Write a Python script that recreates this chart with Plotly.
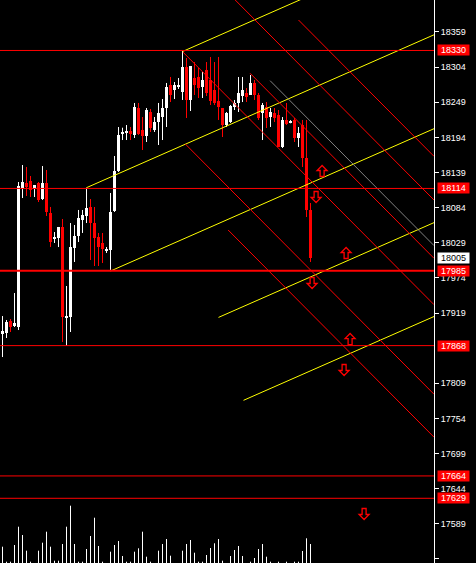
import plotly.graph_objects as go

# ---------------- data ----------------
opens = [17887.7, 17887.7, 17906.5, 17898.7, 17897.1, 18114.7, 18122.5, 18125.7, 18113.1, 18122.5,
         18097.5, 18122.5, 18075.6, 18034.9, 18036.4, 18053.7, 17912.8, 17912.8, 18020.8, 18039.6,
         18064.6, 18070.9, 18085.0, 18059.9, 18038.0, 18028.6, 18016.9, 18017.7, 18078.7, 18141.3,
         18200.3, 18200.8, 18203.9, 18197.7, 18239.9, 18205.5, 18196.1, 18233.7, 18205.5, 18218.0,
         18225.8, 18239.9, 18275.9, 18268.1, 18273.6, 18265.0, 18304.1, 18252.5, 18286.9, 18288.5,
         18272.8, 18299.4, 18283.8, 18268.1, 18250.9, 18239.9, 18213.3, 18218.0, 18241.5, 18247.8,
         18258.7, 18263.4, 18260.3, 18279.1, 18260.3, 18232.1, 18241.5, 18225.8, 18232.1, 18229.0,
         18178.9, 18221.2, 18218.0, 18221.2, 18193.0, 18213.3, 18161.7, 18080.3]
closes = [17890.8, 17904.9, 17897.1, 17903.4, 18117.8, 18124.1, 18116.3, 18111.6, 18119.4, 18095.9,
          18122.5, 18077.1, 18030.2, 18038.0, 18053.7, 17912.8, 17914.3, 18022.3, 18039.6, 18067.7,
          18072.4, 18083.4, 18059.9, 18036.4, 18022.3, 18019.2, 18018.4, 18077.1, 18141.3, 18197.7,
          18202.8, 18203.9, 18199.2, 18241.5, 18199.2, 18196.1, 18236.8, 18208.6, 18218.0, 18232.1,
          18239.9, 18272.8, 18260.3, 18275.9, 18275.2, 18304.1, 18252.5, 18305.7, 18275.9, 18271.2,
          18283.8, 18263.4, 18250.9, 18247.8, 18241.5, 18213.3, 18232.1, 18243.1, 18247.8, 18263.4,
          18268.1, 18257.2, 18279.1, 18260.3, 18224.3, 18244.6, 18224.3, 18233.7, 18224.3, 18178.9,
          18221.2, 18214.9, 18219.6, 18193.0, 18200.8, 18161.7, 18080.3, 18005.0]
highs = [17914.3, 17908.1, 17909.6, 17950.3, 18124.1, 18150.7, 18147.6, 18133.5, 18119.4, 18124.1,
         18149.1, 18142.9, 18085.0, 18045.8, 18053.7, 18066.2, 17961.3, 18059.9, 18056.8, 18080.3,
         18080.3, 18115.2, 18097.5, 18085.0, 18044.3, 18044.3, 18022.3, 18106.9, 18164.8, 18210.2,
         18209.1, 18213.3, 18210.2, 18247.8, 18247.8, 18225.8, 18239.9, 18238.4, 18225.8, 18247.8,
         18254.0, 18279.1, 18288.5, 18280.6, 18286.9, 18330.0, 18318.2, 18305.7, 18311.9, 18302.6,
         18296.3, 18311.9, 18319.8, 18311.9, 18319.8, 18239.9, 18233.7, 18244.6, 18252.5, 18288.5,
         18288.5, 18271.2, 18291.6, 18283.8, 18263.4, 18247.8, 18249.3, 18239.9, 18239.9, 18236.8,
         18225.8, 18247.8, 18221.0, 18224.3, 18210.2, 18221.2, 18221.2, 18091.2]
lows = [17850.1, 17879.9, 17889.3, 17897.1, 17892.4, 18099.0, 18102.2, 18100.6, 18100.6, 18092.8,
        18095.9, 18070.9, 18022.3, 18028.6, 18022.3, 17873.6, 17867.4, 17889.3, 17998.9, 18030.2,
        18044.3, 18059.9, 18002.0, 17992.6, 17992.6, 17997.3, 18013.0, 17986.3, 18077.1, 18139.8,
        18189.8, 18189.8, 18189.8, 18193.0, 18197.7, 18174.2, 18186.7, 18202.4, 18202.4, 18182.0,
        18189.8, 18210.2, 18249.3, 18254.0, 18269.7, 18252.5, 18224.3, 18235.2, 18260.3, 18255.6,
        18255.6, 18258.7, 18244.6, 18244.6, 18221.2, 18194.5, 18210.2, 18216.5, 18236.8, 18233.7,
        18249.3, 18249.3, 18260.3, 18252.5, 18221.2, 18189.8, 18208.6, 18210.2, 18218.0, 18178.9,
        18177.3, 18213.3, 18216.0, 18186.7, 18178.9, 18147.6, 18069.3, 17998.9]
volumes = [163, 13, 13, 180, 363, 280, 123, 13, 0, 123,
           203, 313, 163, 23, 23, 190, 363, 573, 190, 13,
           13, 140, 270, 453, 170, 13, 0, 113, 180, 220,
           70, 13, 13, 113, 147, 313, 63, 13, 0, 123,
           190, 240, 73, 0, 0, 123, 190, 230, 103, 13,
           13, 80, 150, 197, 240, 23, 0, 70, 130, 170,
           70, 0, 13, 50, 140, 190, 63, 13, 0, 13,
           0, 13, 0, 13, 13, 120, 247, 190]

# horizontal price levels (red lines with red labels)
levels = [18330, 18114, 17985, 17868, 17664, 17629]
level_widths = [1, 1, 2, 1, 1, 1]
current_price = 18005

tick_vals = [18359, 18304, 18249, 18194, 18139, 18084, 18029, 17974, 17919,
             17809, 17754, 17699, 17644, 17589, 17534]

# yellow parallel channel: anchor bar, anchor price, slope per bar, offsets, start bars
y_anchor_bar = 21
y_anchor_price = 18115.2
y_slope = 2.755
y_offsets = [147, 0, -147, -294, -441]
y_starts = [45, 21, 27, 54, 60.25]

# descending lines: start bar, start price (slope per bar shared)
r_slope = -6.3
red_starts = [(55, 18429.0), (74, 18377.7), (61.9, 18294.3), (45.1, 18327.6),
              (56.4, 18049.0), (45.7, 18183.6)]
grey_starts = [(66.9, 18282.7)]

# signal arrows: bar position, price, direction
arrow_x = [79.9, 78.4, 85.9, 77.4, 86.9, 85.4, 90.4]
arrow_y = [18141.3, 18100.6, 18013.0, 17966.0, 17878.3, 17829.8, 17604.4]
arrow_dir = ["up", "down", "up", "down", "up", "down", "down"]

# ---------------- figure ----------------
PLOT_W, PLOT_H = 434, 563
X_MIN, X_MAX = -0.625, 107.875
Y_MIN, Y_MAX = 17527.7, 18409.0
UX = (X_MAX - X_MIN) / PLOT_W      # x units per pixel
UY = (Y_MAX - Y_MIN) / PLOT_H      # price per pixel

fig = go.Figure()
n = len(opens)

# volumes (bottom histogram)
vx, vy = [], []
for i in range(n):
    if volumes[i] > 0:
        vx += [i, i, None]
        vy += [0, volumes[i], None]
fig.add_trace(go.Scatter(x=vx, y=vy, yaxis="y2", mode="lines",
                         line=dict(color="#FFFFFF", width=1),
                         hoverinfo="skip", showlegend=False))

# wicks
for color, up in (("#FFFFFF", True), ("#FF0000", False)):
    xs, ys = [], []
    for i in range(n):
        if (closes[i] >= opens[i]) == up:
            xs += [i, i, None]
            ys += [lows[i], highs[i], None]
    fig.add_trace(go.Scatter(x=xs, y=ys, mode="lines",
                             line=dict(color=color, width=1),
                             hoverinfo="skip", showlegend=False))

# bodies
MIN_BODY = 1.6
for color, up in (("#FFFFFF", True), ("#FF0000", False)):
    bx, bb, bh = [], [], []
    for i in range(n):
        o, c = opens[i], closes[i]
        if (c >= o) == up:
            lo, h = min(o, c), abs(c - o)
            if h < MIN_BODY:
                lo -= (MIN_BODY - h) / 2
                h = MIN_BODY
            bx.append(i); bb.append(lo); bh.append(h)
    fig.add_trace(go.Bar(x=bx, y=bh, base=bb, width=0.75,
                         marker=dict(color=color, line=dict(width=0)),
                         hoverinfo="skip", showlegend=False))

# yellow channel lines
for off, st in zip(y_offsets, y_starts):
    p0 = y_anchor_price + y_slope * (st - y_anchor_bar) + off
    p1 = p0 + y_slope * (X_MAX - st)
    fig.add_trace(go.Scatter(x=[st, X_MAX], y=[p0, p1], mode="lines",
                             line=dict(color="#FFFF00", width=1),
                             hoverinfo="skip", showlegend=False))

# descending lines
for starts, col in ((grey_starts, "#808080"), (red_starts, "#FF0000")):
    for st, p0 in starts:
        p1 = p0 + r_slope * (X_MAX - st)
        fig.add_trace(go.Scatter(x=[st, X_MAX], y=[p0, p1], mode="lines",
                                 line=dict(color=col, width=1),
                                 hoverinfo="skip", showlegend=False))

# hollow block arrows (outline glyph, size in pixels)
UP_GLYPH = [(0, -5.5), (5, -0.5), (2, -0.5), (2, 5.5), (-2, 5.5), (-2, -0.5), (-5, -0.5)]
for ax_, ay_, d in zip(arrow_x, arrow_y, arrow_dir):
    sgn = 1 if d == "up" else -1
    pts = [(ax_ + px * UX, ay_ - sgn * py * UY) for px, py in UP_GLYPH]
    path = "M " + " L ".join(f"{x:.4f},{y:.3f}" for x, y in pts) + " Z"
    fig.add_shape(type="path", xref="x", yref="y", path=path,
                  line=dict(color="#FF0000", width=1.3), fillcolor="rgba(0,0,0,0)",
                  layer="above")

# horizontal lines
for lv, w in zip(levels, level_widths):
    fig.add_shape(type="line", xref="paper", x0=0, x1=1, yref="y", y0=lv, y1=lv,
                  line=dict(color="#FF0000", width=w), layer="above")

# price label boxes
for lv in levels:
    fig.add_annotation(x=1, xref="paper", y=lv, yref="y", xanchor="left", yanchor="middle",
                       xshift=3, text=str(lv), showarrow=False, bgcolor="#FF0000",
                       width=31, height=10, borderpad=0, align="center",
                       font=dict(color="#FFFFFF", size=9, family="Liberation Sans"))
fig.add_annotation(x=1, xref="paper", y=current_price, yref="y", xanchor="left", yanchor="middle",
                   xshift=3, text=str(current_price), showarrow=False, bgcolor="#FFFFFF",
                   width=31, height=10, borderpad=0, align="center",
                   font=dict(color="#000000", size=9, family="Liberation Sans"))

fig.update_layout(
    width=476, height=563,
    margin=dict(l=0, r=42, t=0, b=0, autoexpand=False),
    paper_bgcolor="#000000", plot_bgcolor="#000000",
    barmode="overlay", bargap=0,
    showlegend=False,
    xaxis=dict(range=[X_MIN, X_MAX], visible=False, showgrid=False, zeroline=False),
    yaxis=dict(range=[Y_MIN, Y_MAX], side="right", showgrid=False, zeroline=False,
               showline=True, linecolor="#FFFFFF", linewidth=1,
               ticks="outside", ticklen=4, tickcolor="#FFFFFF", tickwidth=1,
               tickvals=tick_vals, ticktext=[str(t) for t in tick_vals],
               tickfont=dict(color="#FFFFFF", size=9, family="Liberation Sans")),
    yaxis2=dict(range=[0, 5630], overlaying="y", visible=False, showgrid=False, zeroline=False),
)

fig.write_html("out.html", config={"displayModeBar": False},
               post_script="document.body.style.margin='0';document.body.style.background='#000';")
